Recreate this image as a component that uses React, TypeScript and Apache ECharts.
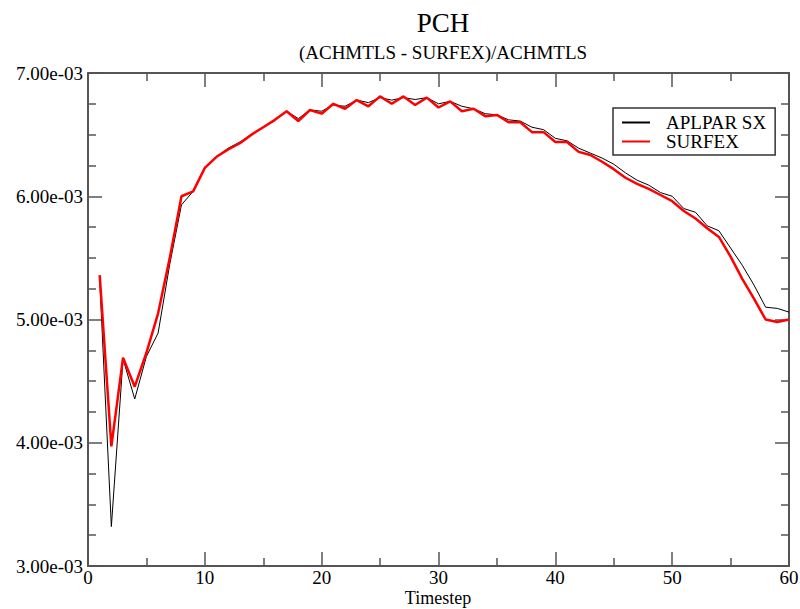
import React, { useEffect, useRef } from "react";
import * as echarts from "echarts";

const timesteps = [
  1, 2, 3, 4, 5, 6, 7, 8, 9, 10, 11, 12, 13, 14, 15, 16, 17, 18, 19, 20,
  21, 22, 23, 24, 25, 26, 27, 28, 29, 30, 31, 32, 33, 34, 35, 36, 37, 38, 39, 40,
  41, 42, 43, 44, 45, 46, 47, 48, 49, 50, 51, 52, 53, 54, 55, 56, 57, 58, 59, 60,
];

const aplparSX = [
  5.33e-3, 3.32e-3, 4.68e-3, 4.355e-3, 4.7e-3, 4.89e-3, 5.45e-3, 5.93e-3, 6.04e-3, 6.23e-3,
  6.32e-3, 6.39e-3, 6.44e-3, 6.5e-3, 6.56e-3, 6.62e-3, 6.69e-3, 6.63e-3, 6.7e-3, 6.69e-3,
  6.74e-3, 6.73e-3, 6.78e-3, 6.76e-3, 6.8e-3, 6.78e-3, 6.8e-3, 6.785e-3, 6.8e-3, 6.75e-3,
  6.77e-3, 6.73e-3, 6.71e-3, 6.67e-3, 6.66e-3, 6.62e-3, 6.61e-3, 6.56e-3, 6.54e-3, 6.47e-3,
  6.45e-3, 6.39e-3, 6.35e-3, 6.31e-3, 6.26e-3, 6.19e-3, 6.13e-3, 6.09e-3, 6.03e-3, 6.0e-3,
  5.9e-3, 5.87e-3, 5.76e-3, 5.72e-3, 5.58e-3, 5.44e-3, 5.28e-3, 5.1e-3, 5.09e-3, 5.06e-3,
];

const surfex = [
  5.36e-3, 3.97e-3, 4.69e-3, 4.455e-3, 4.73e-3, 5.05e-3, 5.5e-3, 6.0e-3, 6.04e-3, 6.23e-3,
  6.32e-3, 6.38e-3, 6.43e-3, 6.5e-3, 6.56e-3, 6.62e-3, 6.69e-3, 6.61e-3, 6.7e-3, 6.67e-3,
  6.75e-3, 6.71e-3, 6.78e-3, 6.73e-3, 6.81e-3, 6.75e-3, 6.81e-3, 6.74e-3, 6.8e-3, 6.72e-3,
  6.77e-3, 6.69e-3, 6.71e-3, 6.65e-3, 6.66e-3, 6.6e-3, 6.6e-3, 6.52e-3, 6.52e-3, 6.44e-3,
  6.44e-3, 6.36e-3, 6.335e-3, 6.28e-3, 6.22e-3, 6.15e-3, 6.1e-3, 6.06e-3, 6.01e-3, 5.96e-3,
  5.88e-3, 5.82e-3, 5.74e-3, 5.67e-3, 5.51e-3, 5.33e-3, 5.17e-3, 5.0e-3, 4.98e-3, 5.0e-3,
];

const titleText = "PCH";
const subtitleText = "(ACHMTLS - SURFEX)/ACHMTLS";
const xName = "Timestep";
const seriesNames = ["APLPAR SX", "SURFEX"];

const FONT = "Liberation Serif";
const AXIS_COLOR = "#555";

function fmtExp(v: number): string {
  const s = v.toExponential(2);
  return s.replace(/e([+-])(\d)$/, "e$10$2");
}

export default function App() {
  const ref = useRef<HTMLDivElement>(null);
  useEffect(() => {
    if (!ref.current) return;
    const chart = echarts.init(ref.current, null, { renderer: "svg" });
    const pairs = (ys: number[]) => timesteps.map((x, i) => [x, ys[i]]);
    const axisLine = { show: true, onZero: false, lineStyle: { color: AXIS_COLOR, width: 2 } };
    const tick = { show: true, inside: true, length: 14, lineStyle: { color: AXIS_COLOR, width: 1.5 } };
    const minor = (n: number) => ({
      show: true,
      splitNumber: n,
      length: 8,
      lineStyle: { color: AXIS_COLOR, width: 1.5 },
    });
    chart.setOption({
      animation: false,
      backgroundColor: "#fff",
      title: [
        {
          text: titleText,
          left: 438,
          top: 4,
          textAlign: "center",
          textStyle: { fontFamily: FONT, fontSize: 27, fontWeight: "normal", color: "#000" },
        },
        {
          text: subtitleText,
          left: 438,
          top: 38,
          textAlign: "center",
          textStyle: { fontFamily: FONT, fontSize: 19, fontWeight: "normal", color: "#000" },
        },
      ],
      graphic: [
        {
          type: "text",
          x: 438,
          y: 598,
          silent: true,
          style: {
            text: xName,
            fontFamily: FONT,
            fontSize: 18,
            fill: "#000",
            align: "center",
            verticalAlign: "middle",
          },
        },
      ],
      legend: {
        orient: "vertical",
        left: 613,
        top: 108,
        padding: [5, 9, 4, 8],
        itemWidth: 28,
        itemHeight: 14,
        itemGap: 0,
        borderColor: "#333",
        borderWidth: 1.5,
        backgroundColor: "#fff",
        itemStyle: { opacity: 0 },
        textStyle: { fontFamily: FONT, fontSize: 19, color: "#000", padding: [0, 0, 0, 11] },
        data: seriesNames,
      },
      grid: {
        left: 88,
        right: 11,
        top: 73,
        bottom: 43,
        containLabel: false,
        outerBoundsMode: "none",
      },
      xAxis: [
        {
          type: "value",
          min: 0,
          max: 60,
          interval: 10,
          axisLine,
          axisTick: tick,
          minorTick: minor(2),
          splitLine: { show: false },
          axisLabel: { fontFamily: FONT, fontSize: 19, color: "#000", margin: 2 },
        },
        {
          type: "value",
          position: "top",
          min: 0,
          max: 60,
          interval: 10,
          axisLine,
          axisTick: tick,
          minorTick: minor(2),
          splitLine: { show: false },
          axisLabel: { show: false },
        },
      ],
      yAxis: [
        {
          type: "value",
          min: 3e-3,
          max: 7e-3,
          interval: 1e-3,
          axisLine,
          axisTick: tick,
          minorTick: minor(4),
          splitLine: { show: false },
          axisLabel: {
            fontFamily: FONT,
            fontSize: 19,
            color: "#000",
            margin: 5,
            formatter: (v: number) => fmtExp(v),
          },
        },
        {
          type: "value",
          position: "right",
          min: 3e-3,
          max: 7e-3,
          interval: 1e-3,
          axisLine,
          axisTick: tick,
          minorTick: minor(4),
          splitLine: { show: false },
          axisLabel: { show: false },
        },
      ],
      series: [
        {
          name: seriesNames[0],
          type: "line",
          data: pairs(aplparSX),
          symbol: "none",
          lineStyle: { color: "#000", width: 1 },
          itemStyle: { color: "#000" },
        },
        {
          name: seriesNames[1],
          type: "line",
          data: pairs(surfex),
          symbol: "none",
          lineStyle: { color: "#ff0000", width: 2.5 },
          itemStyle: { color: "#ff0000" },
        },
      ],
    });
    return () => chart.dispose();
  }, []);
  return (
    <div
      ref={ref}
      style={{ position: "absolute", left: 0, top: 0, width: 800, height: 609, background: "#fff" }}
    />
  );
}
